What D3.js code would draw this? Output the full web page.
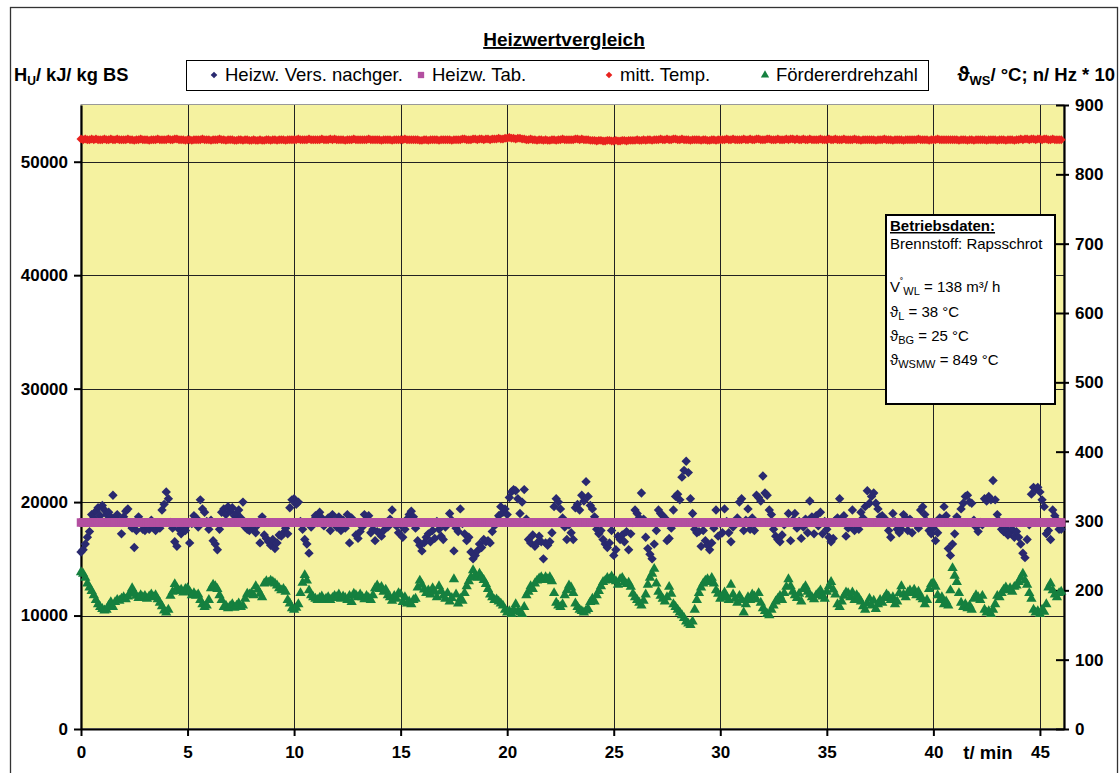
<!DOCTYPE html>
<html>
<head>
<meta charset="utf-8">
<script src="https://cdn.jsdelivr.net/npm/d3@7"></script>
<style>
  body { margin: 0; background: #fff; }
  svg text { font-family: "Liberation Sans", Arial, sans-serif; fill: #000; }
</style>
</head>
<body>
<div id="chart"></div>
<script>

			//Time stamps, one sample every 6 s (0.1 min)
			var zeit = d3.range(461).map(function(i) { return i / 10; });

			//Heizw. Vers. nachger. (kJ/ kg BS), 10 values per minute
			var heizwVers = [
				15600,15800,16300,16900,17400,18900,18600,19200,19500,18800,
				19700,19300,18900,19100,18700,20600,18600,18900,18300,17200,
				18700,19200,19400,18000,17700,16000,17500,18700,18200,17600,
				17500,17900,17600,18400,17800,17500,18100,17700,19300,19800,
				20900,20300,18200,17700,16500,16100,17600,17200,17800,17500,
				18000,16400,18100,18800,18600,17800,20200,19400,19100,18300,
				17600,18400,16600,16300,15800,17600,19100,19400,18900,19600,
				19200,19500,18800,19000,19300,18600,20000,17800,17600,17500,
				17900,17600,17300,18000,16400,18700,17100,16800,16500,16200,
				16700,15900,16400,17100,17000,17300,17700,17200,19500,20200,
				20300,19800,20000,18300,17600,16700,16300,15500,17800,18400,
				18800,18200,19100,18600,17900,18200,18600,17500,18900,18300,
				17800,18700,17500,18400,17700,18900,16400,18600,18300,17100,
				16800,17400,17800,18900,18400,18800,17300,17600,16600,17400,
				17300,17000,17500,18100,17800,18500,19300,18200,17900,17300,
				18000,16900,17600,18500,18900,19200,18700,17700,16600,16200,
				15700,16400,16900,17200,16500,17500,16800,18300,17600,17000,
				16700,17800,18200,19000,18400,15700,17700,17400,19400,18100,
				17200,16600,16900,15600,15000,15300,15700,16300,16000,16700,
				16500,16600,16400,17400,17900,18300,18800,19600,19100,19400,
				18900,20400,20900,21100,21000,20300,19000,20000,21100,18500,
				16700,16400,17100,16100,16400,17000,16500,15000,16400,16200,
				16500,17300,19600,20300,20000,19400,18600,17800,16700,18000,
				17300,16700,19500,19800,19300,20600,20100,21800,20500,19700,
				19400,18700,17600,17200,17500,16700,16300,16000,16400,17500,
				15300,15800,17000,16700,17100,16500,17400,15800,17200,18200,
				19300,19000,18600,20800,18500,16900,15900,15400,15000,16300,
				17500,19300,19000,18800,18600,16600,16800,17700,19300,20500,
				20700,20200,22200,22800,23600,22600,20300,19000,17600,17300,
				17400,16100,17500,16600,16200,15800,16400,17700,19300,17000,
				18100,17300,19400,18300,17300,16500,17800,18300,18600,20000,
				20300,17500,18400,19400,17600,18600,17500,20600,20400,20100,
				22300,20800,20600,19300,18900,17600,17000,16700,16500,17100,
				18000,18200,19000,16600,18400,19000,17700,18300,16800,17800,
				18500,17300,20100,18700,17200,18800,17900,19100,17200,18300,
				17600,16900,16500,16800,18400,18600,20300,18500,18800,17000,
				17700,17900,19300,17500,18100,17600,19100,18600,19600,21000,
				19900,20500,20800,19900,19400,18700,18800,18500,18400,17500,
				16900,19000,18300,17600,17300,17600,18900,18600,17500,18500,
				17300,18200,18000,17700,19300,19600,18900,18300,17500,17200,
				17700,16600,17300,18600,18500,19600,18800,15900,15300,16300,
				17200,18700,18400,19400,19900,20500,20600,20000,19900,18400,
				17800,17400,18200,18000,20300,20100,20500,20200,21900,20200,
				18900,18300,17600,17400,17700,17100,17300,17600,16900,17400,
				16900,16300,15500,15100,16700,18000,20700,21300,21100,21300,
				20900,20200,19600,17200,17500,16700,19300,18800,18400,17600,
				17600
			];

			//Heizw. Tab. (kJ/ kg BS), constant table value
			var heizwTab = 18200;

			//mitt. Temp. (°C), right axis
			var mittTemp = [
				851,850,851,850,850,851,850,851,850,850, 850,851,850,850,851,850,850,851,850,850,
				850,850,851,850,850,849,850,850,851,850, 850,850,849,850,850,850,851,850,850,850,
				850,851,850,850,851,851,850,850,850,849, 850,850,849,850,850,850,850,851,850,850,
				850,849,850,850,850,851,850,850,849,850, 850,850,849,849,850,850,849,850,850,849,
				849,850,849,849,850,849,849,850,850,849, 850,850,849,850,850,850,849,850,850,850,
				850,850,851,850,850,850,850,851,850,850, 850,850,850,851,850,850,850,851,850,851,
				850,850,850,850,849,850,850,850,851,850, 850,850,850,850,850,851,850,850,850,850,
				850,849,850,850,850,850,849,850,850,850, 850,850,851,850,850,850,850,850,850,849,
				849,850,850,849,850,850,850,850,849,850, 850,850,850,850,849,850,850,850,850,851,
				851,850,850,850,851,851,850,851,851,850, 851,851,850,851,851,851,852,851,851,852,
				852,853,852,852,851,852,852,851,851,850, 850,851,850,850,849,850,850,849,850,849,
				849,850,850,849,850,850,851,850,850,850, 850,850,851,851,850,851,850,850,850,849,
				849,849,848,849,849,848,848,849,849,848, 848,849,848,848,849,849,848,849,849,849,
				849,850,849,849,850,849,850,850,849,850, 850,850,851,850,850,851,850,850,851,851,
				850,850,851,850,850,850,849,850,850,850, 850,849,850,850,849,849,850,850,849,850,
				850,850,850,851,850,850,851,850,850,850, 850,851,850,850,851,850,850,851,851,850,
				850,850,851,851,850,850,850,851,850,850, 850,851,850,851,851,850,851,850,850,851,
				850,850,851,850,850,850,850,851,850,850, 850,851,850,850,851,850,850,850,851,850,
				850,850,850,851,850,850,849,850,850,850, 850,850,850,849,850,850,850,851,850,850,
				850,849,850,850,850,850,849,850,850,850, 850,850,850,851,850,850,850,850,849,850,
				850,850,851,850,850,850,850,850,850,850, 850,850,849,850,850,850,849,850,850,849,
				850,850,850,850,850,849,850,850,850,850, 849,850,850,850,849,850,850,850,849,850,
				850,851,850,851,851,850,851,851,850,851, 851,850,851,851,850,850,851,850,850,850,
				850
			];

			//Fördererdrehzahl (n/ Hz * 10), right axis
			var foerderDrehzahl = [
				226,224,218,210,204,199,193,186,180,176, 173,171,172,178,183,176,183,186,185,188,
				190,187,191,195,203,196,192,189,193,190, 192,188,191,194,190,193,187,182,177,171,
				168,172,192,198,209,203,199,201,197,202, 203,198,193,196,192,194,186,180,176,178,
				186,203,208,206,202,193,186,176,178,174, 177,180,175,178,181,176,178,188,195,194,
				196,193,206,201,195,190,210,213,211,214, 212,210,207,203,200,202,198,186,181,174,
				172,175,180,196,211,222,214,200,193,190, 188,186,189,191,186,188,190,186,189,192,
				190,194,188,191,189,186,192,183,195,193, 190,194,190,187,192,189,186,193,203,207,
				202,205,198,201,193,190,185,192,188,196, 194,183,190,181,184,180,186,188,204,214,
				208,201,196,200,194,203,198,190,206,199, 192,188,196,184,189,216,194,181,188,185,
				196,206,213,219,229,222,218,224,219,215, 209,202,194,190,186,187,184,181,178,172,
				168,170,166,172,180,170,168,166,176,193, 198,206,202,210,214,217,219,215,219,216,
				219,213,196,182,178,176,180,193,200,207, 204,196,181,176,172,170,168,171,173,183,
				188,184,193,199,206,212,214,218,216,220, 215,213,208,216,218,212,209,211,205,195,
				190,186,182,178,185,194,208,218,224,231, 210,198,192,188,184,190,205,195,180,176,
				172,168,164,160,155,152,150,155,172,186, 196,204,210,214,216,212,218,210,200,195,
				188,192,197,190,186,208,194,188,182,192, 186,168,180,190,186,194,191,187,196,182,
				174,170,166,164,172,178,184,188,192,186, 196,205,216,206,198,193,189,195,184,202,
				206,198,194,190,187,193,196,200,191,188, 198,206,212,201,194,180,176,184,192,197,
				196,190,197,186,193,189,184,177,172,181, 188,178,185,173,180,186,182,189,194,191,
				186,190,180,184,196,206,194,190,197,200, 196,201,193,198,190,187,180,186,202,209,
				211,205,193,186,190,180,184,178,200,232, 221,212,196,182,176,180,174,178,172,188,
				193,190,186,192,172,168,170,166,172,180, 192,190,196,201,204,200,203,198,205,207,
				212,218,224,214,208,196,188,172,168,170, 166,172,169,180,204,210,200,194,190,196,
				198
			];

			//Tick labels
			var xTicks = [0, 5, 10, 15, 20, 25, 30, 35, 40, 45];
			var yLeftTicks = [0, 10000, 20000, 30000, 40000, 50000];
			var yRightTicks = [0, 100, 200, 300, 400, 500, 600, 700, 800, 900];
			var legendNames = ["Heizw. Vers. nachger.", "Heizw. Tab.", "mitt. Temp.", "Fördererdrehzahl"];
			var colors = ["#29296f", "#b34fa0", "#e8221e", "#15803f"];

			//Width and height
			var w = 1120;
			var h = 773;
			var plot = {left: 81, right: 1064, top: 105, bottom: 729};

			//Create SVG element
			var svg = d3.select("#chart")
						.append("svg")
						.attr("width", w)
						.attr("height", h);

			// outer chart frame
			svg.append("rect")
				.attr("x", 10.5).attr("y", 7.5)
				.attr("width", 1107).attr("height", 800)
				.attr("fill", "#fff")
				.attr("stroke", "#333")
				.attr("stroke-width", 1.3);

			//Set up scales
			var xScale = d3.scaleLinear().domain([0, 46.13]).range([plot.left, plot.right]);
			var yLeft = d3.scaleLinear().domain([0, 55000]).range([plot.bottom, plot.top]);
			var yRight = d3.scaleLinear().domain([0, 900]).range([plot.bottom, plot.top]);

			// plot area
			svg.append("rect")
				.attr("x", plot.left).attr("y", plot.top - 0.5)
				.attr("width", plot.right - plot.left)
				.attr("height", plot.bottom - plot.top)
				.attr("fill", "#f5f2a0")
				.attr("stroke", "#999")
				.attr("stroke-width", 1);

			// grid lines
			svg.append("g").selectAll("line")
				.data(xTicks.slice(1))
				.enter().append("line")
				.attr("x1", function(d) { return Math.round(xScale(d)) + 0.5; })
				.attr("x2", function(d) { return Math.round(xScale(d)) + 0.5; })
				.attr("y1", plot.top).attr("y2", plot.bottom)
				.attr("stroke", "#222").attr("stroke-width", 1);

			svg.append("g").selectAll("line")
				.data(yLeftTicks.slice(1))
				.enter().append("line")
				.attr("x1", plot.left).attr("x2", plot.right)
				.attr("y1", function(d) { return Math.round(yLeft(d)) + 0.5; })
				.attr("y2", function(d) { return Math.round(yLeft(d)) + 0.5; })
				.attr("stroke", "#222").attr("stroke-width", 1);

			//Axes
			var xAxis = d3.axisBottom(xScale).tickValues(xTicks).tickSize(7).tickSizeOuter(0).tickPadding(10);
			var yAxisL = d3.axisLeft(yLeft).tickValues(yLeftTicks).tickSize(7).tickSizeOuter(0).tickPadding(6).tickFormat(d3.format("d"));
			var yAxisR = d3.axisRight(yRight).tickValues(yRightTicks).tickSize(5).tickSizeOuter(0).tickPadding(6);

			var gx = svg.append("g")
				.attr("transform", "translate(0," + plot.bottom + ")")
				.call(xAxis);
			var gl = svg.append("g")
				.attr("transform", "translate(" + plot.left + ",0)")
				.call(yAxisL);
			var gr = svg.append("g")
				.attr("transform", "translate(" + plot.right + ",0)")
				.call(yAxisR);
			gr.selectAll(".tick line").attr("x1", -8);

			[gx, gl, gr].forEach(function(g) {
				g.select(".domain").attr("stroke", "#000").attr("stroke-width", 2.2);
				g.selectAll(".tick line").attr("stroke", "#000").attr("stroke-width", 2);
				g.selectAll("text")
					.style("font-family", "'Liberation Sans', Arial, sans-serif")
					.style("font-size", "17px")
					.style("font-weight", "bold")
					.attr("fill", "#000");
			});

			svg.append("text")
				.attr("x", 988).attr("y", plot.bottom + 17)
				.attr("dy", "0.71em")
				.attr("text-anchor", "middle")
				.attr("font-size", 18.5).attr("font-weight", "bold")
				.text("t/ min");

			//Series: Heizw. Vers. nachger. (diamonds)
			svg.append("g").selectAll("path")
				.data(heizwVers)
				.enter().append("path")
				.attr("transform", function(d, i) {
					return "translate(" + xScale(zeit[i]) + "," + yLeft(d) + ") rotate(45)";
				})
				.attr("d", d3.symbol().type(d3.symbolSquare).size(44))
				.attr("fill", colors[0]);

			//Series: Heizw. Tab. (squares)
			svg.append("g").selectAll("path")
				.data(zeit)
				.enter().append("path")
				.attr("transform", function(d) {
					return "translate(" + xScale(d) + "," + yLeft(heizwTab) + ")";
				})
				.attr("d", d3.symbol().type(d3.symbolSquare).size(72))
				.attr("fill", colors[1]);

			//Series: mitt. Temp. (small diamonds)
			svg.append("g").selectAll("path")
				.data(mittTemp)
				.enter().append("path")
				.attr("transform", function(d, i) {
					return "translate(" + xScale(zeit[i]) + "," + yRight(d) + ") rotate(45)";
				})
				.attr("d", d3.symbol().type(d3.symbolSquare).size(40))
				.attr("fill", colors[2]);

			//Series: Fördererdrehzahl (triangles)
			svg.append("g").selectAll("path")
				.data(foerderDrehzahl)
				.enter().append("path")
				.attr("transform", function(d, i) {
					return "translate(" + xScale(zeit[i]) + "," + yRight(d) + ")";
				})
				.attr("d", d3.symbol().type(d3.symbolTriangle).size(46))
				.attr("fill", colors[3]);

			//Title
			svg.append("text")
				.attr("x", 564).attr("y", 46)
				.attr("text-anchor", "middle")
				.attr("font-size", 19).attr("font-weight", "bold")
				.attr("text-decoration", "underline")
				.text("Heizwertvergleich");

			// axis titles
			var tl = svg.append("text")
				.attr("x", 14).attr("y", 81)
				.attr("font-size", 18.3).attr("font-weight", "bold");
			tl.append("tspan").text("H");
			tl.append("tspan").attr("dy", 4).attr("font-size", 12).text("U");
			tl.append("tspan").attr("dy", -4).text("/ kJ/ kg BS");

			var tr = svg.append("text")
				.attr("x", 1115).attr("y", 81)
				.attr("text-anchor", "end")
				.attr("font-size", 18.5).attr("font-weight", "bold");
			tr.append("tspan").attr("font-size", 21).text("ϑ");
			tr.append("tspan").attr("dy", 4).attr("font-size", 13).text("WS");
			tr.append("tspan").attr("dy", -4).text("/ °C; n/ Hz * 10");

			//Legend
			svg.append("rect")
				.attr("x", 186.5).attr("y", 60.5)
				.attr("width", 742).attr("height", 30)
				.attr("fill", "#fff").attr("stroke", "#000").attr("stroke-width", 1);

			var legX = [214, 421, 609, 765];
			var legSym = [
				{type: d3.symbolSquare, size: 22, rot: 45},
				{type: d3.symbolSquare, size: 40, rot: 0},
				{type: d3.symbolSquare, size: 22, rot: 45},
				{type: d3.symbolTriangle, size: 30, rot: 0}
			];
			var leg = svg.append("g").selectAll("g")
				.data(legendNames)
				.enter().append("g");
			leg.append("path")
				.attr("transform", function(d, i) {
					return "translate(" + legX[i] + ",75) rotate(" + legSym[i].rot + ")";
				})
				.attr("d", function(d, i) { return d3.symbol().type(legSym[i].type).size(legSym[i].size)(); })
				.attr("fill", function(d, i) { return colors[i]; });
			leg.append("text")
				.attr("x", function(d, i) { return legX[i] + 11; })
				.attr("y", 81)
				.attr("font-size", 18.5)
				.text(function(d) { return d; });

			//Betriebsdaten box
			svg.append("rect")
				.attr("x", 886).attr("y", 215)
				.attr("width", 169).attr("height", 189)
				.attr("fill", "#fff").attr("stroke", "#000").attr("stroke-width", 2);

			svg.append("text")
				.attr("x", 890).attr("y", 231)
				.attr("font-size", 15).attr("font-weight", "bold")
				.attr("text-decoration", "underline")
				.text("Betriebsdaten:");
			svg.append("text")
				.attr("x", 890).attr("y", 249)
				.attr("font-size", 15)
				.text("Brennstoff: Rapsschrot");

			var tv = svg.append("text").attr("x", 890).attr("y", 292).attr("font-size", 15);
			tv.append("tspan").text("V");
			tv.append("tspan").attr("dy", -6).attr("font-size", 10).text("˚");
			tv.append("tspan").attr("dy", 9).attr("font-size", 11).text("WL");
			tv.append("tspan").attr("dy", -3).text(" = 138 m³/ h");

			var thetaLines = [
				{sub: "L", rest: " = 38 °C", y: 317},
				{sub: "BG", rest: " = 25 °C", y: 341},
				{sub: "WSMW", rest: " = 849 °C", y: 365}
			];
			thetaLines.forEach(function(l) {
				var t = svg.append("text").attr("x", 890).attr("y", l.y).attr("font-size", 15);
				t.append("tspan").text("ϑ");
				t.append("tspan").attr("dy", 3).attr("font-size", 11).text(l.sub);
				t.append("tspan").attr("dy", -3).text(l.rest);
			});

</script>
</body>
</html>
